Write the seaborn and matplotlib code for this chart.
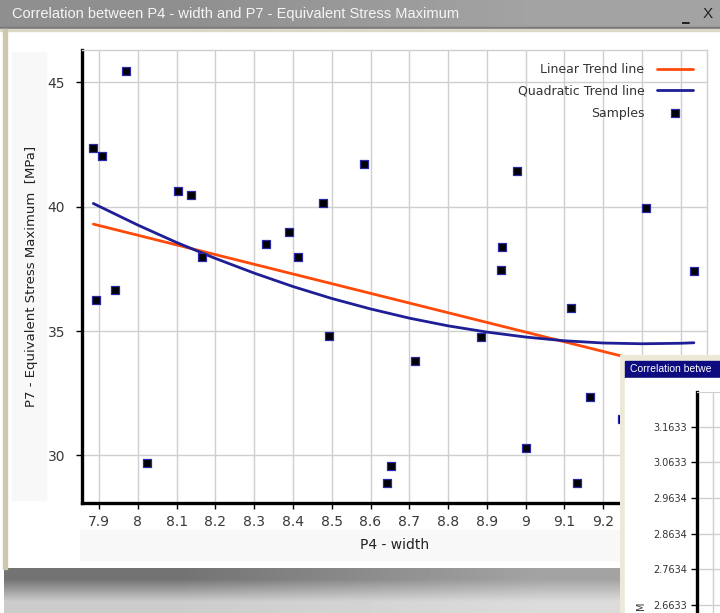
import numpy as np
import seaborn as sns
import matplotlib.pyplot as plt
from matplotlib.patches import Rectangle

# samples (P4 - width vs P7 - equivalent stress max)
sample_x = [7.885, 7.908, 7.893, 7.940, 7.970, 8.024, 8.104, 8.137, 8.165, 8.330,
            8.390, 8.412, 8.478, 8.492, 8.583, 8.642, 8.653, 8.715, 8.886, 8.937,
            8.940, 8.977, 9.001, 9.117, 9.133, 9.165, 9.248, 9.310, 9.434]
sample_y = [42.35, 42.05, 36.26, 36.66, 45.45, 29.69, 40.64, 40.47, 37.98, 38.49,
            38.99, 37.98, 40.13, 34.81, 41.71, 28.89, 29.57, 33.78, 34.75, 37.47,
            38.37, 41.43, 30.31, 35.92, 28.89, 32.36, 31.45, 39.96, 37.40]

# trend lines
linear_x = [7.885, 9.434]
linear_y = [39.30, 33.27]
quad_x = [7.885, 8.0, 8.1, 8.2, 8.3, 8.4, 8.5, 8.6, 8.7, 8.8, 8.9, 9.0, 9.1, 9.2, 9.3, 9.4, 9.434]
quad_y = [40.13, 39.26, 38.56, 37.92, 37.33, 36.79, 36.31, 35.89, 35.52, 35.21, 34.96,
          34.76, 34.61, 34.52, 34.49, 34.51, 34.53]

x_ticks = [7.9, 8.0, 8.1, 8.2, 8.3, 8.4, 8.5, 8.6, 8.7, 8.8, 8.9, 9.0, 9.1, 9.2, 9.3, 9.4]
x_labels = ['7.9', '8', '8.1', '8.2', '8.3', '8.4', '8.5', '8.6', '8.7', '8.8', '8.9',
            '9', '9.1', '9.2', '9.3', '9.4']
y_ticks = [30, 35, 40, 45]

# the second (overlapping) window
inset_ticks = [3.1633, 3.0633, 2.9634, 2.8634, 2.7634, 2.6633]
inset_labels = ['3.1633', '3.0633', '2.9634', '2.8634', '2.7634', '2.6633']

title = 'Correlation between P4 - width and P7 - Equivalent Stress Maximum'

sns.set_style('white')
plt.rcParams['font.family'] = ['DejaVu Sans']

W, H = 720, 613
fig = plt.figure(figsize=(W / 100, H / 100), dpi=100)

def frac(x0, y0, x1, y1):
    return [x0 / W, 1 - y1 / H, (x1 - x0) / W, (y1 - y0) / H]

# window chrome, drawn in pixel coordinates
bg = fig.add_axes([0, 0, 1, 1], zorder=0)
bg.axis('off')
bg.add_patch(Rectangle((0, 0), W, H, color='white', zorder=0))
bg.imshow([[0.56, 0.64]], extent=(0, W, 27, 0), cmap='gray', vmin=0, vmax=1,
          aspect='auto', interpolation='bilinear', zorder=2)
bg.add_patch(Rectangle((0, 27), W, 2, color='#7a7a7a', zorder=3))
bg.add_patch(Rectangle((0, 29), W, 2, color='#dcd8c8', zorder=3))
bg.add_patch(Rectangle((3, 29), 4, 540, color='#cfc7ad', zorder=3))
bg.text(12, 14, title, color='#f6f6f6', fontsize=10.5, va='center', ha='left',
        family=['Liberation Sans', 'DejaVu Sans'], zorder=4)
bg.text(686, 16, '_', color='#222222', fontsize=11, va='center', ha='center',
        weight='bold', zorder=4)
bg.text(708, 14, 'X', color='#222222', fontsize=11, va='center', ha='center',
        family=['Liberation Sans', 'DejaVu Sans'], zorder=4)
bg.add_patch(Rectangle((12, 52), 34, 448, color='#f8f8f8', zorder=3))
bg.add_patch(Rectangle((80, 530), 545, 30, color='#f8f8f8', zorder=3))
bg.imshow([[0.45, 0.64], [0.80, 0.86]], extent=(4, W, H, 568), cmap='gray', vmin=0, vmax=1,
          aspect='auto', interpolation='bilinear', zorder=2)
bg.set_xlim(0, W)
bg.set_ylim(H, 0)

# main chart
ax = fig.add_axes(frac(81.7, 50, 706.7, 502.7), zorder=1)
ax.set_facecolor('white')

sns.lineplot(x=linear_x, y=linear_y, ax=ax, color='#ff4a0a', linewidth=2,
             estimator=None, sort=False, label='Linear Trend line')
sns.lineplot(x=quad_x, y=quad_y, ax=ax, color='#1e1e96', linewidth=2,
             estimator=None, sort=False, label='Quadratic Trend line')
sns.scatterplot(x=sample_x, y=sample_y, ax=ax, marker='s', s=26, color='black',
                edgecolor='#2828a8', linewidth=0.9, label='Samples', zorder=3)

ax.set_xlim(7.855, 9.467)
ax.set_ylim(28.10, 46.30)
ax.set_xticks(x_ticks)
ax.set_xticklabels(x_labels)
ax.set_yticks(y_ticks)
ax.grid(True, color='#cfcfcf', linewidth=1)
ax.set_axisbelow(True)
for side in ['left', 'bottom']:
    ax.spines[side].set_color('black')
    ax.spines[side].set_linewidth(2.4)
for side in ['top', 'right']:
    ax.spines[side].set_color('#cfcfcf')
    ax.spines[side].set_linewidth(1)
ax.tick_params(axis='both', direction='out', length=4, width=1, color='black',
               labelsize=10, labelcolor='#3a3a3a', left=True, bottom=True)
ax.tick_params(axis='y', pad=8)
ax.tick_params(axis='x', pad=5)
ax.set_xlabel('P4 - width', fontsize=10, color='#222222', labelpad=6)
ax.set_ylabel('P7 - Equivalent Stress Maximum  [MPa]', fontsize=9.5, color='#222222',
              labelpad=7)

leg = ax.legend(loc='upper right', bbox_to_anchor=(698 / W, 1 - 58 / H),
                bbox_transform=fig.transFigure, frameon=False, markerfirst=False,
                fontsize=9, handlelength=2.9, handletextpad=1.0, labelspacing=0.7,
                borderaxespad=0)
for t in leg.get_texts():
    t.set_color('#333333')

# overlapping second window
win = fig.add_axes(frac(620, 355, 720, 613), zorder=3)
win.axis('off')
win.add_patch(Rectangle((620, 355), 100, 258, color='#ece9d8'))
win.add_patch(Rectangle((625, 361), 95, 17, color='#0c0c80'))
win.add_patch(Rectangle((625, 378), 95, 235, color='white'))
win.text(630, 369.5, 'Correlation betwe', color='white', fontsize=7.5, va='center',
         ha='left', family=['Liberation Sans', 'DejaVu Sans'], clip_on=True)
win.text(641, 606, 'M', color='#333333', fontsize=7, rotation=90, va='center',
         ha='center', clip_on=True)
win.set_xlim(620, 720)
win.set_ylim(613, 355)

inner = fig.add_axes(frac(696.7, 391.7, 780, 613), zorder=4)
inner.set_facecolor('white')
inner.set_ylim(2.6408, 3.2616)
inner.set_xlim(0, 1)
inner.set_yticks(inset_ticks)
inner.set_yticklabels(inset_labels)
inner.set_xticks([0.2])
inner.tick_params(axis='x', bottom=False, labelbottom=False)
inner.tick_params(axis='y', direction='out', length=4, width=1, color='black',
                  labelsize=7, labelcolor='#333333', pad=3, left=True)
inner.grid(True, color='#cfcfcf', linewidth=1)
inner.spines['left'].set_color('black')
inner.spines['left'].set_linewidth(2.4)
inner.spines['bottom'].set_visible(False)
inner.spines['right'].set_visible(False)
inner.spines['top'].set_color('#cfcfcf')

fig.savefig('out.png', dpi=100)
